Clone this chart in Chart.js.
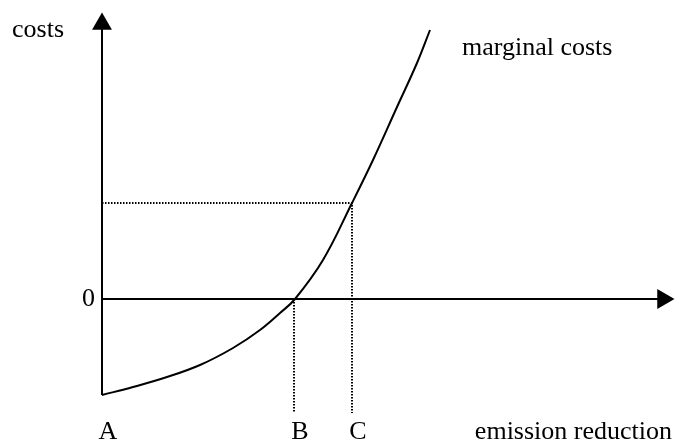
<!DOCTYPE html>
<html>
<head>
<meta charset="utf-8">
<script src="https://cdn.jsdelivr.net/npm/chart.js@4/dist/chart.umd.min.js"></script>
<style>
  body { margin: 0; background: #fff; }
  canvas { display: block; }
</style>
</head>
<body>
<canvas id="chart" width="675" height="441"></canvas>
<script>
// marginal cost curve (emission reduction vs costs, arbitrary units)
const curveX = [0, 3.1, 6.5, 9.8, 13.1, 15.8, 17.8, 19.3, 22.1, 25, 27.1, 29.5, 31.5, 32.8];
const curveY = [-9.6, -8.8, -7.8, -6.6, -4.9, -3.1, -1.4, 0, 3.9, 9.6, 13.9, 19.2, 23.6, 26.9];

// marks on the emission axis
const markLabels = ['A', 'B', 'C'];
const markX = [0, 19.2, 25];
const costAtC = 9.6;

// axis extents
const xAxisEnd = 56.1;
const yAxisTop = 27.5;
const axisBottom = -9.6;
const dropTo = -11.4;

const toPoints = (xs, ys) => xs.map((x, i) => ({ x, y: ys[i] }));

const textPlugin = {
  id: 'texts',
  afterDraw(chart) {
    const ctx = chart.ctx;
    const sx = chart.scales.x, sy = chart.scales.y;
    ctx.save();
    ctx.fillStyle = '#000';
    ctx.font = '26px "Liberation Serif", "Times New Roman", serif';
    ctx.textBaseline = 'alphabetic';

    ctx.textAlign = 'left';
    ctx.fillText('costs', sx.getPixelForValue(-9), sy.getPixelForValue(26.2));
    ctx.fillText('marginal costs', sx.getPixelForValue(36), sy.getPixelForValue(24.4));

    ctx.textAlign = 'right';
    ctx.fillText('0', sx.getPixelForValue(-0.7), sy.getPixelForValue(-0.7));
    ctx.fillText('emission reduction', sx.getPixelForValue(57), sy.getPixelForValue(-14));

    ctx.textAlign = 'center';
    markLabels.forEach((l, i) => {
      ctx.fillText(l, sx.getPixelForValue(markX[i] + 0.6), sy.getPixelForValue(-14));
    });
    ctx.restore();
  }
};

const dotted = { borderColor: '#000', borderWidth: 2, borderDash: [1.5, 1.5], pointRadius: 0, showLine: true, fill: false };
const solid = { borderColor: '#000', borderWidth: 2, pointRadius: 0, showLine: true, fill: false };

new Chart(document.getElementById('chart'), {
  type: 'scatter',
  data: {
    datasets: [
      // y axis
      Object.assign({ data: [{ x: 0, y: axisBottom }, { x: 0, y: yAxisTop }] }, solid),
      // x axis
      Object.assign({ data: [{ x: 0, y: 0 }, { x: xAxisEnd, y: 0 }] }, solid),
      // guides
      Object.assign({ data: [{ x: 0, y: costAtC }, { x: markX[2], y: costAtC }, { x: markX[2], y: dropTo }] }, dotted),
      Object.assign({ data: [{ x: markX[1], y: 0 }, { x: markX[1], y: dropTo }] }, dotted),
      // marginal costs curve
      Object.assign({ data: toPoints(curveX, curveY), tension: 0.4 }, solid),
      // arrow heads
      {
        data: [{ x: 0, y: yAxisTop }, { x: xAxisEnd, y: 0 }],
        pointStyle: 'triangle',
        rotation: [0, 90],
        pointRadius: 11.5,
        backgroundColor: '#000',
        borderColor: '#000',
        borderWidth: 0,
        showLine: false,
        clip: false
      }
    ]
  },
  options: {
    responsive: false,
    animation: false,
    events: [],
    layout: { padding: 0, autoPadding: false },
    plugins: { legend: { display: false }, tooltip: { enabled: false } },
    scales: {
      x: { type: 'linear', display: false, min: -10.2, max: 57.3 },
      y: { type: 'linear', display: false, min: -14.2, max: 29.9 }
    }
  },
  plugins: [textPlugin]
});
</script>
</body>
</html>
